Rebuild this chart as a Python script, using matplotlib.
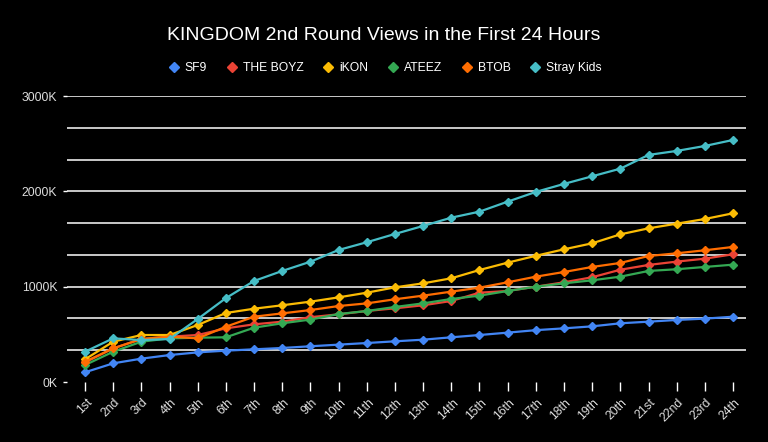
import numpy as np
import matplotlib
matplotlib.use("Agg")
import matplotlib.pyplot as plt
import matplotlib.transforms as mtransforms
from matplotlib.lines import Line2D

plt.rcParams["font.family"] = ["Liberation Sans", "DejaVu Sans"]

#----data (views, in thousands)----
hours = ["1st", "2nd", "3rd"] + [f"{i}th" for i in range(4, 21)] + ["21st", "22nd", "23rd", "24th"]

sf9 = [102, 196, 245, 283, 311, 329, 343, 357, 375, 392, 409, 427, 444, 469, 493, 518, 544, 563, 584, 616, 633, 651, 665, 685]
the_boyz = [205, 353, 451, 476, 493, 563, 605, 633, 680, 710, 745, 773, 805, 850, 937, 955, 1000, 1046, 1099, 1178, 1228, 1263, 1294, 1340]
ikon = [238, 423, 493, 493, 598, 724, 769, 805, 843, 888, 937, 993, 1035, 1088, 1175, 1252, 1324, 1392, 1455, 1549, 1612, 1661, 1710, 1770]
ateez = [178, 318, 423, 458, 465, 469, 570, 616, 655, 713, 745, 787, 825, 871, 906, 955, 1000, 1035, 1067, 1105, 1165, 1183, 1207, 1231]
btob = [213, 353, 451, 476, 458, 580, 685, 720, 755, 797, 825, 868, 906, 948, 990, 1046, 1105, 1154, 1207, 1249, 1322, 1350, 1382, 1417]
stray_kids = [318, 458, 440, 451, 661, 880, 1060, 1165, 1262, 1385, 1466, 1553, 1637, 1724, 1787, 1892, 1994, 2078, 2158, 2238, 2382, 2424, 2476, 2539]

groups = ["SF9", "THE BOYZ", "iKON", "ATEEZ", "BTOB", "Stray Kids"]
series = [sf9, the_boyz, ikon, ateez, btob, stray_kids]
colors = ["#4285F4", "#EA4335", "#FBBC04", "#34A853", "#FF6D01", "#46BDC6"]

y_major = [0, 1000, 2000, 3000]

#----figure----
fig = plt.figure(figsize=(7.68, 4.42), dpi=100, facecolor="black")
ax = fig.add_axes([0.0872, 0.1357, 0.8842, 0.6471])
ax.set_facecolor("black")

x = np.arange(len(hours))

# gridlines every third of 1000K, none at zero
for g in np.arange(1, 10) * 1000 / 3:
    ax.axhline(g, color="white", lw=1.1, zorder=1)

for name, vals, c in zip(groups, series, colors):
    ax.plot(x, vals, color=c, lw=1.6, marker="D", ms=4.4, label=name, zorder=3, clip_on=False)

ax.set_xlim(-0.64, len(hours) - 1 + 0.46)
ax.set_ylim(0, 3000)

for s in ax.spines.values():
    s.set_visible(False)

ax.set_xticks(x)
ax.set_xticklabels(hours, rotation=45, ha="right", va="center", rotation_mode="anchor",
                   fontsize=8.8, color="#dddddd")
ax.tick_params(axis="x", colors="white", length=6.5, width=1, pad=7, labelcolor="#dddddd")
shift = mtransforms.ScaledTranslation(5 / 100, 0, fig.dpi_scale_trans)
for lab in ax.get_xticklabels():
    lab.set_transform(lab.get_transform() + shift)

ax.set_yticks(y_major)
ax.set_yticklabels([f"{v}K" for v in y_major], fontsize=8.8, color="#dddddd")
ax.tick_params(axis="y", colors="white", length=3, width=1, pad=4, labelcolor="#dddddd")

#----legend----
handles = [Line2D([], [], marker="D", ls="none", color=c, ms=5.2) for c in colors]
leg = fig.legend(handles, groups, loc="center", bbox_to_anchor=(0.501, 0.846), ncol=6,
                 frameon=False, fontsize=8.7, labelcolor="white",
                 handletextpad=0.4, columnspacing=1.55, handlelength=1.0)

fig.suptitle("KINGDOM 2nd Round Views in the First 24 Hours", x=0.5, y=0.94,
             fontsize=14, color="white")

fig.savefig("out.png", dpi=100, facecolor="black")
